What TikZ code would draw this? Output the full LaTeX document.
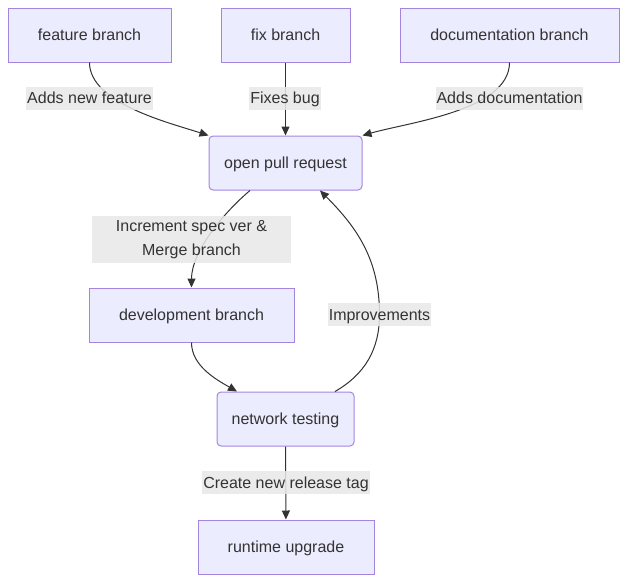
\documentclass[tikz,border=0pt]{standalone}
\usepackage{fontspec}
\setmainfont{Liberation Sans}
\definecolor{mmfill}{HTML}{ECECFF}
\definecolor{mmborder}{HTML}{9370DB}
\definecolor{mmlabel}{HTML}{E8E8E8}
\definecolor{mmline}{HTML}{333333}
\usetikzlibrary{arrows.meta,positioning}

\begin{document}
\begin{tikzpicture}[x=1pt,y=1pt,
    every node/.style={font=\fontsize{16}{24}\selectfont,text=mmline},
    box/.style={draw=mmborder!85,fill=mmfill,line width=1pt,minimum height=54pt,
                inner sep=0pt,text height=13pt,text depth=2pt,align=center},
    rbox/.style={box,rounded corners=4pt},
    lbl/.style={fill=mmlabel,fill opacity=0.85,text opacity=1,inner xsep=1pt,
                inner ysep=0pt,minimum height=23pt,align=center},
    slbl/.style={lbl,text height=13pt,text depth=2pt},
    arr/.style={-{Triangle[length=9pt,width=8pt]},line width=1pt,mmline}]

  \useasboundingbox (0,0) rectangle (627,-582);

  %% Branches
  \node[box,minimum width=163pt] (feat) at (89.5,-35) {feature branch};
  \node[box,minimum width=129pt] (fix)  at (285.5,-35) {fix branch};
  \node[box,minimum width=219pt] (doc)  at (509.5,-35) {documentation branch};

  %% Pull request and testing
  \node[rbox,minimum width=153pt] (pr)  at (285.5,-163) {open pull request};
  \node[box,minimum width=205pt]  (dev) at (191.5,-315) {development branch};
  \node[rbox,minimum width=137pt] (net) at (285.5,-419) {network testing};
  \node[box,minimum width=176pt]  (rt)  at (286,-547) {runtime upgrade};

  \coordinate (impc) at (379.5,-314.5);

  %% Arrows
  \draw[arr] (feat.south) to[out=-90,in=162,looseness=0.75] (pr.north west);
  \draw[arr] (fix) -- (pr);
  \draw[arr] (doc.south) to[out=-90,in=16,looseness=0.75] (pr.north east);
  \draw[arr] ([xshift=-35.5pt]pr.south) to[out=-140,in=90,looseness=0.8] (dev.north);
  \draw[arr] (dev.south) to[out=-90,in=150,looseness=0.9] ([xshift=-48.5pt]net.north);
  \draw[arr] ([xshift=49.5pt]net.north) to[out=30,in=-90] (impc)
             to[out=90,in=-45] ([xshift=34.5pt]pr.south);
  \draw[arr] (net) -- (rt);

  %% Edge labels
  \node[slbl] (lfeat) at (89.5,-98) {Adds new feature};
  \node[slbl] (lfix)  at (285,-98) {Fixes bug};
  \node[slbl] (ldoc)  at (509.5,-98) {Adds documentation};
  \node[lbl,minimum width=199pt,minimum height=47pt] (lmerge) at (191.5,-239.5)
       {Increment spec ver \&\\Merge branch};
  \node[slbl] (limp)  at (impc) {Improvements};
  \node[slbl] (lrel)  at (286,-482.5) {Create new release tag};
\end{tikzpicture}
\end{document}
